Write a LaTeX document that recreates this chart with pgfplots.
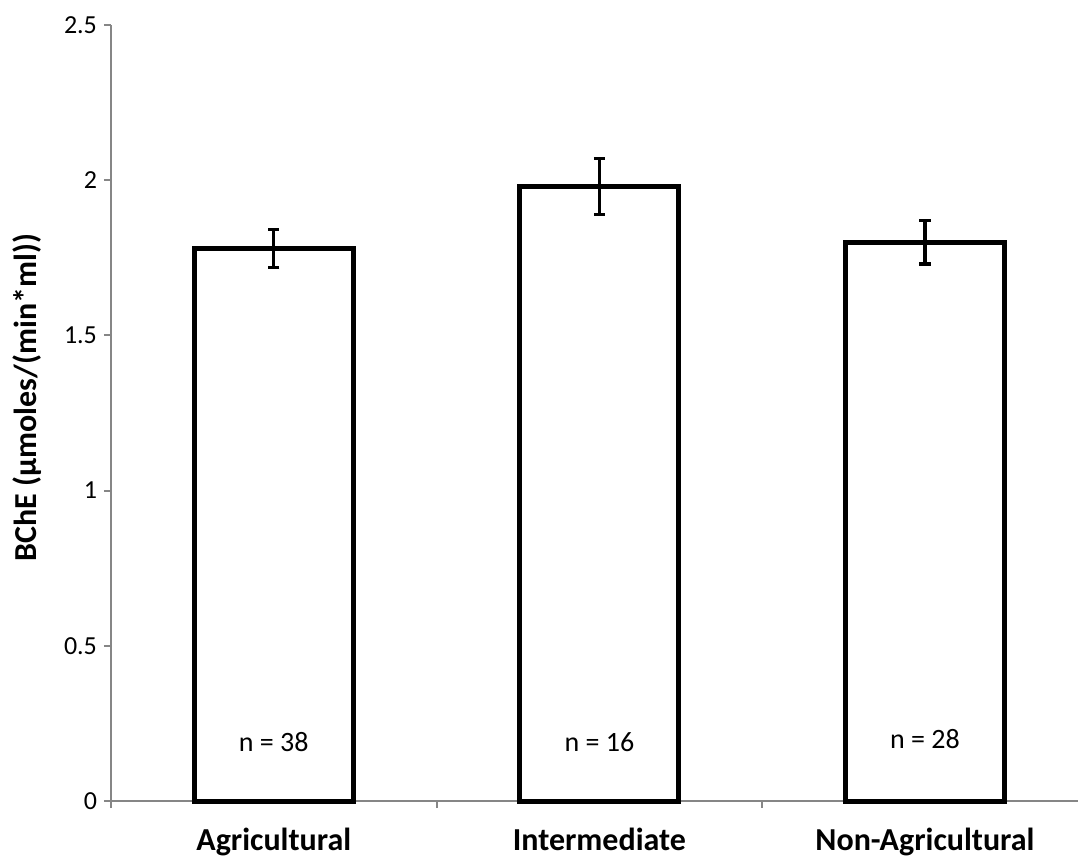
\documentclass[border=0pt]{standalone}
\usepackage{fontspec}
\setmainfont{Carlito}
\usepackage{pgfplots}
\pgfplotsset{compat=1.18}
\definecolor{axisgray}{RGB}{134,134,134}
\newcommand{\tickfont}{\fontsize{13}{15}\selectfont}
\newcommand{\labfont}{\bfseries\fontsize{16}{18}\selectfont}
\begin{document}
\begin{tikzpicture}
\begin{axis}[
  scale only axis, width=483.5pt, height=388pt,
  xmin=-0.5, xmax=2.47, ymin=0, ymax=2.5,
  axis x line*=bottom, axis y line*=left,
  axis line style={axisgray, line width=1pt},
  clip=false,
  ytick={0,0.5,1,1.5,2,2.5},
  yticklabels={{\tickfont 0},{\tickfont 0.5},{\tickfont 1},{\tickfont 1.5},{\tickfont 2},{\tickfont 2.5}},
  tick align=outside, major tick length=3.5pt,
  tick style={axisgray, line width=1pt},
  xtick={-0.5,0.5,1.5}, xticklabels={},
  extra x ticks={0,1,2},
  extra x tick labels={{\labfont Agricultural}, {\labfont Intermediate}, {\labfont Non-Agricultural}},
  extra x tick style={major tick length=0pt, tick label style={yshift=-10pt}},
  /pgf/number format/assume math mode=true,
  ylabel={BChE (µmoles/(min*ml))},
  ylabel style={font=\labfont, at={(axis description cs:-0.0864,0.52)}, anchor=center},
]
\addplot[ybar, bar width=79.5pt, draw=black, line width=2.5pt, fill=white,
  error bars/.cd, y dir=both, y explicit,
  error bar style={line width=1.6pt, black},
  error mark options={rotate=90, mark size=2.8pt, line width=1.6pt, black}]
  coordinates {(0,1.78) +- (0,0.06) (1,1.98) +- (0,0.09) (2,1.80) +- (0,0.07)};
\node[font=\fontsize{14}{16}\selectfont] at (axis cs:0,0.19) {n = 38};
\node[font=\fontsize{14}{16}\selectfont] at (axis cs:1,0.19) {n = 16};
\node[font=\fontsize{14}{16}\selectfont] at (axis cs:2,0.20) {n = 28};
\end{axis}
\pgfresetboundingbox
\path (current axis.south west) +(-55.5pt,-28.5pt) rectangle +(483.5pt,400.5pt);
\end{tikzpicture}
\end{document}
